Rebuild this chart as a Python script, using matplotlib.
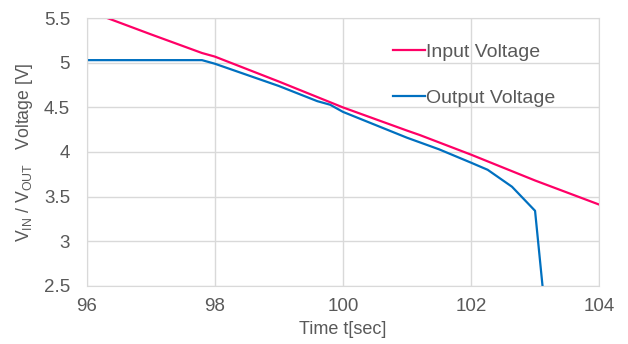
import numpy as np
import matplotlib
matplotlib.use("Agg")
import matplotlib.pyplot as plt

plt.rcParams['font.family'] = ['Liberation Sans', 'DejaVu Sans']

# input voltage
t_in = [96.0, 96.33, 97.0, 97.8, 98.0, 99.0, 100.0, 101.0, 101.2, 102.0, 103.0, 104.0]
v_in = [5.59, 5.5, 5.32, 5.11, 5.07, 4.79, 4.5, 4.24, 4.19, 3.97, 3.68, 3.41]

# output voltage
t_out = [96.0, 97.8, 98.0, 99.0, 99.6, 99.8, 100.0, 101.0, 101.5, 101.9, 102.0,
         102.26, 102.64, 103.0, 103.13]
v_out = [5.03, 5.03, 4.99, 4.74, 4.57, 4.53, 4.45, 4.16, 4.03, 3.91, 3.88,
         3.80, 3.61, 3.34, 2.4]

xticks = [96, 98, 100, 102, 104]
yticks = [2.5, 3, 3.5, 4, 4.5, 5, 5.5]
ylabels = ['2.5', '3', '3.5', '4', '4.5', '5', '5.5']

gray = '#595959'
fig = plt.figure(figsize=(6.28, 3.44), dpi=100)
ax = fig.add_axes([0.138, 0.1695, 0.816, 0.7775])

ax.plot(t_in, v_in, color='#FF0066', lw=1.6, label='Input Voltage')
ax.plot(t_out, v_out, color='#0070C0', lw=1.6, label='Output Voltage')

ax.set_xlim(96, 104)
ax.set_ylim(2.5, 5.5)
ax.set_xticks(xticks)
ax.set_yticks(yticks)
ax.set_yticklabels(ylabels)
ax.grid(True, color='#d9d9d9', lw=1)
ax.set_axisbelow(True)
for s in ax.spines.values():
    s.set_color('#d9d9d9')
ax.tick_params(length=0, labelsize=13.5, colors=gray)
ax.tick_params(axis='x', pad=9)
ax.tick_params(axis='y', pad=12)

ax.set_xlabel('Time t[sec]', fontsize=13, color=gray, labelpad=4)
ax.set_ylabel(r'V$_{\mathregular{IN}}$ / V$_{\mathregular{OUT}}$   Voltage [V]', fontsize=12.7,
              color=gray, labelpad=6)

leg = ax.legend(loc='upper left', bbox_to_anchor=(0.598, 0.907), frameon=False,
                fontsize=14, labelspacing=1.48, handlelength=1.65, handletextpad=0.05,
                borderpad=0, borderaxespad=0)
for txt in leg.get_texts():
    txt.set_color(gray)

fig.savefig('out.png', dpi=100)
